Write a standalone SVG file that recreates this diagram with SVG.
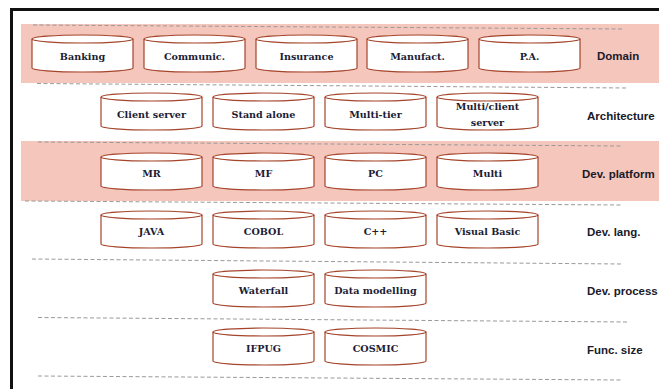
<svg xmlns="http://www.w3.org/2000/svg" xmlns:xlink="http://www.w3.org/1999/xlink" width="659" height="389" viewBox="0 0 659 389">
  <style>
    .band { fill: #f5c6bb; }
    .cyl { fill: #ffffff; stroke: #a4452b; stroke-width: 1.2; }
    .lid { fill: none; stroke: #a4452b; stroke-width: 1.2; }
    .sep { stroke: #9a9a9a; stroke-width: 1; stroke-dasharray: 4 2.5; fill: none; }
    .frame { stroke: #111111; stroke-width: 3; fill: none; }
    .item { font-family: "DejaVu Serif", "Liberation Serif", serif; font-weight: bold; font-size: 9.6px; fill: #1c1c34; text-anchor: middle; }
    .layer { font-family: "Liberation Sans", Arial, sans-serif; font-weight: bold; font-size: 11.5px; fill: #1a1a2a; }
  </style>
  <defs>
    <!-- cylinder 101 x 37, origin at top-left -->
    <g id="cylinder">
      <path class="cyl" d="M0,4 A50.5,4 0 0 1 101,4 V33 A50.5,4 0 0 1 0,33 Z"/>
      <path class="lid" d="M0,4 A50.5,4 0 0 0 101,4"/>
    </g>
  </defs>

  <rect width="659" height="389" fill="#ffffff"/>

  <!-- shaded layers -->
  <rect class="band" x="21" y="24" width="638" height="59"/>
  <rect class="band" x="21" y="141" width="638" height="60"/>

  <!-- outer frame -->
  <path class="frame" d="M11.5,389 V9.5 H659"/>

  <!-- layer separators -->
  <g id="separators">
    <line class="sep" x1="33" y1="25" x2="623" y2="29"/>
    <line class="sep" x1="37" y1="83.5" x2="628" y2="88"/>
    <line class="sep" x1="38" y1="142" x2="623" y2="146"/>
    <line class="sep" x1="25" y1="201" x2="622" y2="205"/>
    <line class="sep" x1="32" y1="259" x2="622" y2="264"/>
    <line class="sep" x1="38" y1="317.5" x2="628" y2="322"/>
    <line class="sep" x1="38" y1="376" x2="623" y2="380"/>
  </g>

  <!-- Domain -->
  <g id="banking"><use xlink:href="#cylinder" x="32" y="35"/><text class="item" x="82.5" y="59.5">Banking</text></g>
  <g id="communic"><use xlink:href="#cylinder" x="144" y="35"/><text class="item" x="194.5" y="59.5">Communic.</text></g>
  <g id="insurance"><use xlink:href="#cylinder" x="256" y="35"/><text class="item" x="306.5" y="59.5">Insurance</text></g>
  <g id="manufact"><use xlink:href="#cylinder" x="367" y="35"/><text class="item" x="417.5" y="59.5">Manufact.</text></g>
  <g id="pa"><use xlink:href="#cylinder" x="479" y="35"/><text class="item" x="529.5" y="59.5">P.A.</text></g>
  <g id="label-domain"><text class="layer" x="597" y="60">Domain</text></g>

  <!-- Architecture -->
  <g id="client-server"><use xlink:href="#cylinder" x="101" y="93"/><text class="item" x="151.5" y="118">Client server</text></g>
  <g id="stand-alone"><use xlink:href="#cylinder" x="213" y="93"/><text class="item" x="263.5" y="118">Stand alone</text></g>
  <g id="multi-tier"><use xlink:href="#cylinder" x="325" y="93"/><text class="item" x="375.5" y="118">Multi-tier</text></g>
  <g id="multi-client-server"><use xlink:href="#cylinder" x="437" y="93"/><text class="item" x="487.5" y="110">Multi/client</text><text class="item" x="487.5" y="126">server</text></g>
  <g id="label-architecture"><text class="layer" x="587" y="120">Architecture</text></g>

  <!-- Dev. platform -->
  <g id="mr"><use xlink:href="#cylinder" x="101" y="153"/><text class="item" x="151.5" y="177">MR</text></g>
  <g id="mf"><use xlink:href="#cylinder" x="213" y="153"/><text class="item" x="263.5" y="177">MF</text></g>
  <g id="pc"><use xlink:href="#cylinder" x="325" y="153"/><text class="item" x="375.5" y="177">PC</text></g>
  <g id="multi"><use xlink:href="#cylinder" x="437" y="153"/><text class="item" x="487.5" y="177">Multi</text></g>
  <g id="label-platform"><text class="layer" x="582" y="178">Dev. platform</text></g>

  <!-- Dev. lang. -->
  <g id="java"><use xlink:href="#cylinder" x="101" y="211"/><text class="item" x="151.5" y="235">JAVA</text></g>
  <g id="cobol"><use xlink:href="#cylinder" x="213" y="211"/><text class="item" x="263.5" y="235">COBOL</text></g>
  <g id="cpp"><use xlink:href="#cylinder" x="325" y="211"/><text class="item" x="375.5" y="235">C++</text></g>
  <g id="visual-basic"><use xlink:href="#cylinder" x="437" y="211"/><text class="item" x="487.5" y="235">Visual Basic</text></g>
  <g id="label-lang"><text class="layer" x="587" y="236">Dev. lang.</text></g>

  <!-- Dev. process -->
  <g id="waterfall"><use xlink:href="#cylinder" x="213" y="270"/><text class="item" x="263.5" y="294">Waterfall</text></g>
  <g id="data-modelling"><use xlink:href="#cylinder" x="325" y="270"/><text class="item" x="375.5" y="294">Data modelling</text></g>
  <g id="label-process"><text class="layer" x="587" y="295">Dev. process</text></g>

  <!-- Func. size -->
  <g id="ifpug"><use xlink:href="#cylinder" x="213" y="328"/><text class="item" x="263.5" y="352">IFPUG</text></g>
  <g id="cosmic"><use xlink:href="#cylinder" x="325" y="328"/><text class="item" x="375.5" y="352">COSMIC</text></g>
  <g id="label-size"><text class="layer" x="587" y="354">Func. size</text></g>
</svg>
